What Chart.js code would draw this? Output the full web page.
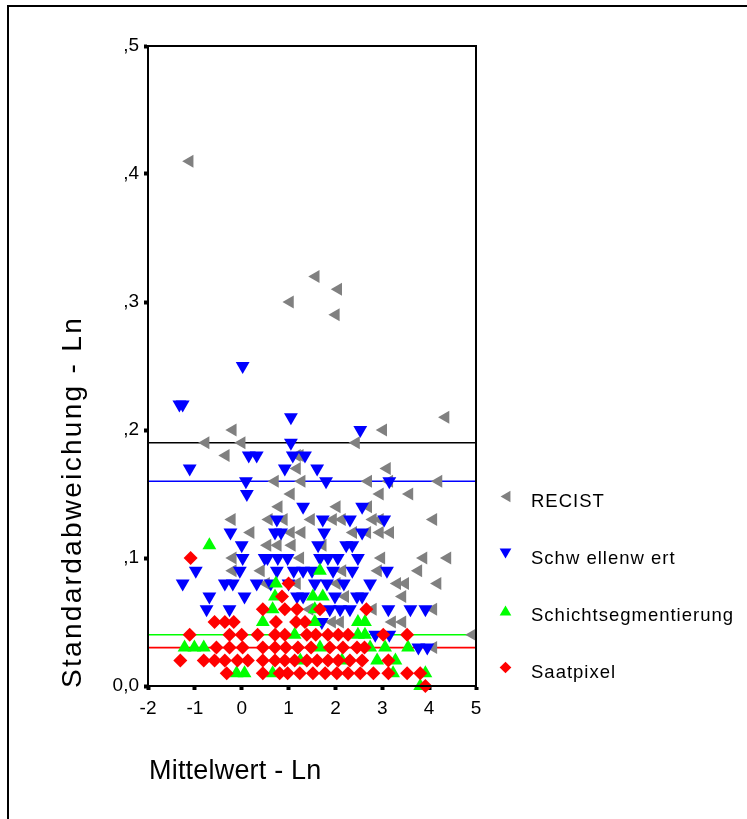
<!DOCTYPE html>
<html>
<head>
<meta charset="utf-8">
<script src="https://cdn.jsdelivr.net/npm/chart.js@4/dist/chart.umd.min.js"></script>
<style>
  body { margin: 0; background: #fff; font-family: "Liberation Sans", Arial, sans-serif; }
  #wrap { position: relative; width: 747px; height: 819px; overflow: hidden; }
  #frame { position: absolute; left: 7px; top: 5px; right: -10px; bottom: -10px;
           border-top: 2px solid #000; border-left: 2px solid #000; }
  .title { position: absolute; font-size: 27px; line-height: 30px; height: 30px; white-space: nowrap; color: #000; }
  #ytitle { left: 57px; top: 688px; font-size: 28px; transform-origin: 0 0; transform: rotate(-90deg); letter-spacing: 2.3px; }
  #xtitle { left: 149px; top: 755px; letter-spacing: 0.2px; }
  #legend { position: absolute; left: 496px; top: 486px; font-size: 18.5px; color: #000; letter-spacing: 1px; }
  .item { position: relative; height: 57px; line-height: 30px; padding-left: 35px; white-space: nowrap; }
  .mk { position: absolute; left: 3px; top: 4px; width: 13px; height: 13px; }
  .m-recist { background: #808080; clip-path: polygon(12% 50%, 88% 5%, 88% 95%); }
  .m-schwelle { background: #0000ff; clip-path: polygon(5% 12%, 95% 12%, 50% 88%); }
  .m-schicht { background: #00ff00; clip-path: polygon(50% 12%, 95% 88%, 5% 88%); }
  .m-saat { background: #ff0000; clip-path: polygon(50% 5%, 95% 50%, 50% 95%, 5% 50%); }
</style>
</head>
<body>
<div id="wrap">
  <canvas id="chart" width="747" height="819"></canvas>
  <div id="frame"></div>
  <div class="title" id="ytitle">Standardabweichung - Ln</div>
  <div class="title" id="xtitle">Mittelwert - Ln</div>
  <div id="legend"></div>
</div>
<script>
// series: [Mittelwert - Ln, Standardabweichung - Ln]
const recist = [
  [-1.11, 0.41], [1.03, 0.30], [1.58, 0.32], [2.06, 0.31], [2.01, 0.29], [4.35, 0.21],
  [-0.19, 0.20], [3.02, 0.20], [-0.77, 0.19], [0.0, 0.19], [2.44, 0.19], [-0.34, 0.18],
  [1.18, 0.18], [1.24, 0.18], [1.18, 0.17], [3.10, 0.17], [0.71, 0.16], [1.28, 0.16],
  [2.70, 0.16], [3.15, 0.16], [4.20, 0.16], [1.05, 0.15], [2.95, 0.15], [3.58, 0.15],
  [0.79, 0.14], [2.03, 0.14], [2.70, 0.14], [-0.21, 0.13], [0.58, 0.13], [1.48, 0.13],
  [1.95, 0.13], [2.14, 0.13], [2.80, 0.13], [2.95, 0.13], [4.09, 0.13], [0.19, 0.12],
  [1.05, 0.12], [1.28, 0.12], [2.38, 0.12], [2.68, 0.12], [2.95, 0.12], [3.17, 0.12],
  [0.77, 0.11], [1.07, 0.11], [1.73, 0.11], [-0.19, 0.10], [2.98, 0.10], [3.88, 0.10],
  [4.39, 0.10], [-0.19, 0.09], [0.41, 0.09], [2.91, 0.09], [3.77, 0.09], [1.18, 0.08],
  [2.03, 0.08], [3.32, 0.08], [3.49, 0.08], [4.18, 0.08], [2.21, 0.07], [3.43, 0.07],
  [2.80, 0.06], [4.09, 0.06], [1.93, 0.05], [2.10, 0.05], [3.21, 0.05], [3.43, 0.05],
  [4.93, 0.04], [4.09, 0.03], [0.55, 0.11], [1.25, 0.10], [0.52, 0.08], [1.45, 0.06],
  [2.15, 0.09], [0.9, 0.13]
];
const schwellenwert = [
  [0.02, 0.25], [-1.26, 0.22], [-1.33, 0.22], [1.05, 0.21], [2.53, 0.20], [1.05, 0.19],
  [0.15, 0.18], [0.32, 0.18], [1.09, 0.18], [1.35, 0.18], [-1.11, 0.17], [0.92, 0.17],
  [1.61, 0.17], [0.09, 0.16], [1.80, 0.16], [3.15, 0.16], [0.11, 0.15], [1.31, 0.14],
  [2.57, 0.14], [0.75, 0.13], [1.73, 0.13], [2.31, 0.13], [3.04, 0.13], [-0.24, 0.12],
  [0.71, 0.12], [0.84, 0.12], [1.76, 0.12], [2.57, 0.12], [0.0, 0.11], [1.63, 0.11],
  [2.23, 0.11], [2.36, 0.11], [0.02, 0.10], [0.49, 0.10], [0.77, 0.10], [0.98, 0.10],
  [1.67, 0.10], [1.84, 0.10], [2.48, 0.10], [-0.98, 0.09], [-0.04, 0.09], [0.75, 0.09],
  [1.11, 0.09], [1.31, 0.09], [1.50, 0.09], [1.95, 0.09], [2.36, 0.09], [3.10, 0.09],
  [-1.26, 0.08], [-0.36, 0.08], [-0.19, 0.08], [0.32, 0.08], [1.56, 0.08], [1.82, 0.08],
  [2.18, 0.08], [2.74, 0.08], [-0.69, 0.07], [0.06, 0.07], [1.18, 0.07], [1.31, 0.07],
  [1.99, 0.07], [2.46, 0.07], [2.57, 0.07], [-0.75, 0.06], [-0.26, 0.06], [1.88, 0.06],
  [2.10, 0.06], [2.31, 0.06], [3.13, 0.06], [3.60, 0.06], [3.92, 0.06], [1.71, 0.05],
  [2.85, 0.04], [3.15, 0.04], [3.77, 0.03], [3.96, 0.03], [0.55, 0.10], [0.62, 0.08],
  [1.0, 0.08], [2.05, 0.10]
];
const schichtsegmentierung = [
  [-0.69, 0.11], [1.67, 0.09], [0.73, 0.08], [0.71, 0.07], [1.52, 0.07], [1.73, 0.07],
  [0.66, 0.06], [1.56, 0.06], [0.45, 0.05], [1.56, 0.05], [2.48, 0.05], [2.63, 0.05],
  [1.13, 0.04], [2.48, 0.04], [2.63, 0.04], [-1.22, 0.03], [-1.01, 0.03], [-0.81, 0.03],
  [1.67, 0.03], [2.74, 0.03], [3.06, 0.03], [3.55, 0.03], [1.25, 0.02], [2.14, 0.02],
  [2.89, 0.02], [3.28, 0.02], [-0.11, 0.01], [0.06, 0.01], [0.66, 0.01], [3.23, 0.01],
  [3.92, 0.01], [3.81, 0.00]
];
const saatpixel = [
  [-1.09, 0.10], [1.00, 0.08], [0.86, 0.07], [0.45, 0.06], [0.92, 0.06], [1.18, 0.06],
  [1.67, 0.06], [2.66, 0.06], [-0.58, 0.05], [-0.36, 0.05], [-0.17, 0.05], [0.73, 0.05],
  [1.16, 0.05], [1.35, 0.05], [-1.11, 0.04], [-0.26, 0.04], [0.0, 0.04], [0.34, 0.04],
  [0.71, 0.04], [0.92, 0.04], [1.39, 0.04], [1.58, 0.04], [1.84, 0.04], [2.06, 0.04],
  [2.27, 0.04], [3.02, 0.04], [3.53, 0.04], [-0.54, 0.03], [-0.26, 0.03], [0.02, 0.03],
  [0.45, 0.03], [0.71, 0.03], [0.94, 0.03], [1.20, 0.03], [1.48, 0.03], [1.88, 0.03],
  [2.16, 0.03], [2.46, 0.03], [2.62, 0.03], [-1.31, 0.02], [-0.81, 0.02], [-0.58, 0.02],
  [-0.36, 0.02], [-0.09, 0.02], [0.13, 0.02], [0.45, 0.02], [0.71, 0.02], [0.92, 0.02],
  [1.13, 0.02], [1.39, 0.02], [1.61, 0.02], [1.84, 0.02], [2.06, 0.02], [2.31, 0.02],
  [2.57, 0.02], [3.13, 0.02], [-0.32, 0.01], [0.45, 0.01], [0.81, 0.01], [0.98, 0.01],
  [1.24, 0.01], [1.52, 0.01], [1.78, 0.01], [2.03, 0.01], [2.27, 0.01], [2.53, 0.01],
  [2.81, 0.01], [3.13, 0.01], [3.53, 0.01], [3.81, 0.01], [3.92, 0.00]
];

// horizontal mean lines (RECIST, Schwellenwert, Schichtsegmentierung, Saatpixel)
const meanLines = [0.19, 0.16, 0.04, 0.03];

const seriesNames = ["RECIST", "Schw ellenw ert", "Schichtsegmentierung", "Saatpixel"];
const seriesColors = ["#808080", "#0000ff", "#00ff00", "#ff0000"];
const xTickLabels = ["-2", "-1", "0", "1", "2", "3", "4", "5"];
const yTickLabels = ["0,0", ",1", ",2", ",3", ",4", ",5"];

Chart.defaults.font.family = "'Liberation Sans', Arial, sans-serif";
Chart.defaults.color = "#000";

const pts = arr => arr.map(p => ({ x: p[0], y: p[1] }));

const markerStyles = [
  { pointStyle: "triangle", rotation: 270, radius: 7.5 },
  { pointStyle: "triangle", rotation: 180, radius: 8 },
  { pointStyle: "triangle", rotation: 0, radius: 8 },
  { pointStyle: "rectRot", rotation: 0, radius: 7 }
];
const allSeries = [recist, schwellenwert, schichtsegmentierung, saatpixel];

const datasets = [];
allSeries.forEach((s, i) => {
  datasets.push({
    label: seriesNames[i],
    data: pts(s),
    backgroundColor: seriesColors[i],
    borderColor: seriesColors[i],
    pointStyle: markerStyles[i].pointStyle,
    rotation: markerStyles[i].rotation,
    pointRadius: markerStyles[i].radius,
    pointBorderWidth: 0,
    showLine: false,
    clip: 10,
    order: 3 - i
  });
});
meanLines.forEach((v, i) => {
  datasets.push({
    label: "mean " + seriesNames[i],
    data: [{ x: -2, y: v }, { x: 5, y: v }],
    borderColor: i === 0 ? "#000" : seriesColors[i],
    borderWidth: 1.6,
    pointRadius: 0,
    showLine: true,
    order: 10
  });
});

const frameBox = {
  id: "frameBox",
  afterDraw(chart) {
    const { ctx, chartArea: a } = chart;
    ctx.save();
    ctx.strokeStyle = "#000";
    ctx.lineWidth = 2;
    ctx.strokeRect(a.left, a.top, a.right - a.left, a.bottom - a.top);
    ctx.restore();
  }
};

new Chart(document.getElementById("chart"), {
  type: "scatter",
  data: { datasets },
  options: {
    responsive: false,
    animation: false,
    events: [],
    layout: { padding: { left: 56, top: 46, right: 271, bottom: 27 } },
    plugins: { legend: { display: false }, tooltip: { enabled: false } },
    scales: {
      x: {
        type: "linear", min: -2, max: 5,
        afterFit: s => { s.height = 106; },
        ticks: { stepSize: 1, padding: 7, font: { size: 19 },
                 callback: (v, i) => xTickLabels[i] },
        grid: { drawOnChartArea: false, tickLength: 4, tickWidth: 4, tickColor: "#000" },
        border: { display: true, color: "#000", width: 2 }
      },
      y: {
        type: "linear", min: 0, max: 0.5,
        afterFit: s => { s.width = 92; },
        ticks: { stepSize: 0.1, padding: 5, font: { size: 19 },
                 callback: (v, i) => yTickLabels[i] },
        grid: { drawOnChartArea: false, tickLength: 4, tickWidth: 4, tickColor: "#000" },
        border: { display: true, color: "#000", width: 2 }
      }
    }
  },
  plugins: [frameBox]
});

// legend
const legend = document.getElementById("legend");
const mkClass = ["m-recist", "m-schwelle", "m-schicht", "m-saat"];
seriesNames.forEach((name, i) => {
  const row = document.createElement("div");
  row.className = "item";
  row.innerHTML = '<span class="mk ' + mkClass[i] + '"></span>' + name;
  legend.appendChild(row);
});
</script>
</body>
</html>
